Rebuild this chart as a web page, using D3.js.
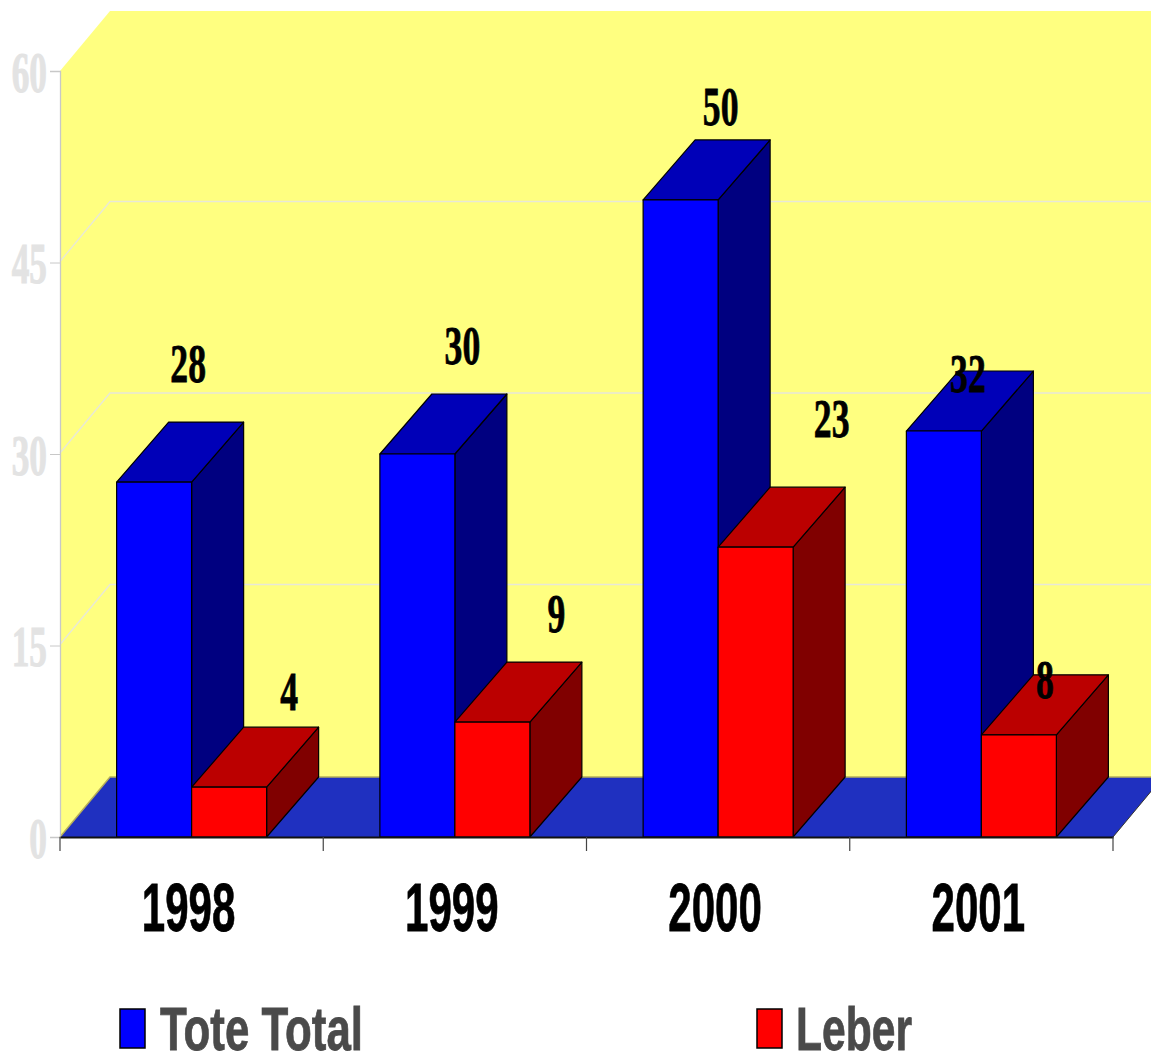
<!DOCTYPE html>
<html>
<head>
<meta charset="utf-8">
<script src="https://cdn.jsdelivr.net/npm/d3@7"></script>
<style>
    html, body { margin: 0; padding: 0; background: #fff; overflow: hidden; }
    svg { display: block; }
</style>
</head>
<body>
<svg id="chart"></svg>
<script>
const years = ["1998", "1999", "2000", "2001"];
const seriesNames = ["Tote Total", "Leber"];
const toteTotal = [27.8, 30, 49.9, 31.8];
const leber = [3.9, 9, 22.7, 8];
const yTicks = [0, 15, 30, 45, 60];

const width = 1151, height = 1056;
const wallDx = 50, barDx = 52, depthDy = 60;
const plot = { left: 60, right: 1113, top: 71, bottom: 837 };

// the labels were placed by hand in the original, so they sit at odd offsets
const labelNudge = {
    "Tote Total": [[34, -100], [45, -90], [40, -75], [24, -39]],
    "Leber": [[60, -77], [64, -90], [76, -110], [26, -37]]
};

const colors = {
    "Tote Total": { front: "#0000ff", top: "#0000b8", side: "#000080" },
    "Leber": { front: "#ff0000", top: "#bb0000", side: "#800000" }
};

const svg = d3.select("#chart").attr("width", width).attr("height", height);

const x0 = d3.scaleBand().domain(years).range([plot.left, plot.right]);
const x1 = d3.scaleBand().domain(seriesNames).range([0, x0.bandwidth()]).paddingInner(0).paddingOuter(0.755);
const y = d3.scaleLinear().domain([0, 60]).range([plot.bottom, plot.top]);
const line = d3.line();

// back wall and floor
svg.append("path")
    .attr("fill", "#ffff80")
    .attr("d", line([[plot.left, y(60)], [plot.left + wallDx, y(60) - depthDy], [plot.right + wallDx, y(60) - depthDy],
        [plot.right + wallDx, y(0) - depthDy], [plot.right, y(0)], [plot.left, y(0)]]) + "Z");

svg.append("path")
    .attr("fill", "#1f30c0")
    .attr("d", line([[plot.left, y(0)], [plot.left + wallDx, y(0) - depthDy], [plot.right + wallDx, y(0) - depthDy], [plot.right, y(0)]]) + "Z");

svg.append("path")
    .attr("fill", "none").attr("stroke", "#b5ae5a").attr("stroke-width", 1.5)
    .attr("d", line([[plot.left, y(0)], [plot.left + wallDx, y(0) - depthDy], [plot.right + wallDx, y(0) - depthDy]]));

svg.append("line")
    .attr("x1", plot.right).attr("y1", y(0)).attr("x2", plot.right + wallDx).attr("y2", y(0) - depthDy)
    .attr("stroke", "#333").attr("stroke-width", 1);

svg.append("g").selectAll("path")
    .data(yTicks.filter(d => d > 0 && d < 60))
    .join("path")
    .attr("fill", "none").attr("stroke", "#e8e8d8").attr("stroke-width", 1.3)
    .attr("d", d => line([[plot.left, y(d) - 1], [plot.left + wallDx, y(d) - 1 - depthDy], [plot.right + wallDx, y(d) - 1 - depthDy]]));

// y axis
const yAxis = svg.append("g")
    .attr("transform", `translate(${plot.left}, 0)`)
    .call(d3.axisLeft(y).tickValues(yTicks).tickSize(10).tickPadding(0));
yAxis.select(".domain").attr("stroke", "#c8c8c8").attr("stroke-width", 1.3);
yAxis.selectAll(".tick line").attr("stroke", "#c8c8c8");
yAxis.selectAll(".tick text")
    .attr("x", 0).attr("dy", "0.33em")
    .attr("transform", "translate(-13, 2) scale(0.63, 1)")
    .attr("text-anchor", "end")
    .attr("fill", "#e3e3e3")
    .attr("stroke", "#e3e3e3").attr("stroke-width", 1)
    .style("font", "bold 56px 'Liberation Serif'");

// bars, blue first in each year so the red one overlaps it
const bars = years.flatMap((year, i) => [
    { year, name: "Tote Total", value: toteTotal[i], i },
    { year, name: "Leber", value: leber[i], i }
]);

const bar = svg.append("g").selectAll("g").data(bars).join("g");

bar.append("path")
    .attr("fill", d => colors[d.name].side)
    .attr("d", d => {
        const r = x0(d.year) + x1(d.name) + x1.bandwidth();
        return line([[r, y(d.value)], [r + barDx, y(d.value) - depthDy], [r + barDx, y(0) - depthDy], [r, y(0)]]) + "Z";
    });

bar.append("path")
    .attr("fill", d => colors[d.name].top)
    .attr("d", d => {
        const l = x0(d.year) + x1(d.name), r = l + x1.bandwidth();
        return line([[l, y(d.value)], [l + barDx, y(d.value) - depthDy], [r + barDx, y(d.value) - depthDy], [r, y(d.value)]]) + "Z";
    });

bar.append("rect")
    .attr("x", d => x0(d.year) + x1(d.name))
    .attr("y", d => y(d.value))
    .attr("width", x1.bandwidth())
    .attr("height", d => y(0) - y(d.value))
    .attr("fill", d => colors[d.name].front);

bar.selectAll("path, rect")
    .attr("stroke", "#000").attr("stroke-width", 1.2).attr("stroke-linejoin", "round");

// value labels
svg.append("g").selectAll("text")
    .data(bars)
    .join("text")
    .attr("transform", d => {
        const [dx, dy] = labelNudge[d.name][d.i];
        const cx = x0(d.year) + x1(d.name) + x1.bandwidth() / 2 + dx;
        return `translate(${cx}, ${y(d.value) + dy}) scale(0.66, 1)`;
    })
    .attr("text-anchor", "middle")
    .attr("fill", "#000")
    .attr("stroke", "#000").attr("stroke-width", 0.8)
    .style("font", "bold 54px 'Liberation Serif'")
    .text(d => d3.format(".0f")(d.value));

// x axis, ticks sit on the band edges so the band axis only gives the labels
const xAxis = svg.append("g")
    .attr("transform", `translate(0, ${plot.bottom})`)
    .call(d3.axisBottom(x0).tickSize(0).tickPadding(0));
xAxis.select(".domain").attr("stroke", "#111").attr("stroke-width", 2);
xAxis.selectAll(".tick text")
    .attr("y", 0).attr("dy", 0)
    .attr("transform", "translate(-3, 94) scale(0.61, 1)")
    .attr("fill", "#000")
    .attr("stroke", "#000").attr("stroke-width", 0.8)
    .style("font", "bold 69px 'Liberation Sans'");

xAxis.append("g").selectAll("line")
    .data([...years.map(d => x0(d)), plot.right])
    .join("line")
    .attr("x1", d => d).attr("x2", d => d)
    .attr("y1", 0).attr("y2", 14)
    .attr("stroke", "#444").attr("stroke-width", 1.2);

// legend
const legendX = d3.scaleOrdinal().domain(seriesNames).range([119, 756]);
const legendWidth = d3.scaleOrdinal().domain(seriesNames).range([203, 116]);

const legend = svg.append("g").selectAll("g")
    .data(seriesNames)
    .join("g")
    .attr("transform", d => `translate(${legendX(d)}, 1008)`);

legend.append("rect")
    .attr("x", 1).attr("y", 1).attr("width", 25).attr("height", 39)
    .attr("fill", d => colors[d].front)
    .attr("stroke", "#000").attr("stroke-width", 1.5);

legend.append("text")
    .attr("x", (d, i) => i === 0 ? 41 : 40)
    .attr("y", 42)
    .attr("textLength", d => legendWidth(d))
    .attr("lengthAdjust", "spacingAndGlyphs")
    .attr("fill", "#4a4a4a")
    .attr("stroke", "#4a4a4a").attr("stroke-width", 0.8)
    .style("font", "bold 62px 'Liberation Sans'")
    .text(d => d);
</script>
</body>
</html>
